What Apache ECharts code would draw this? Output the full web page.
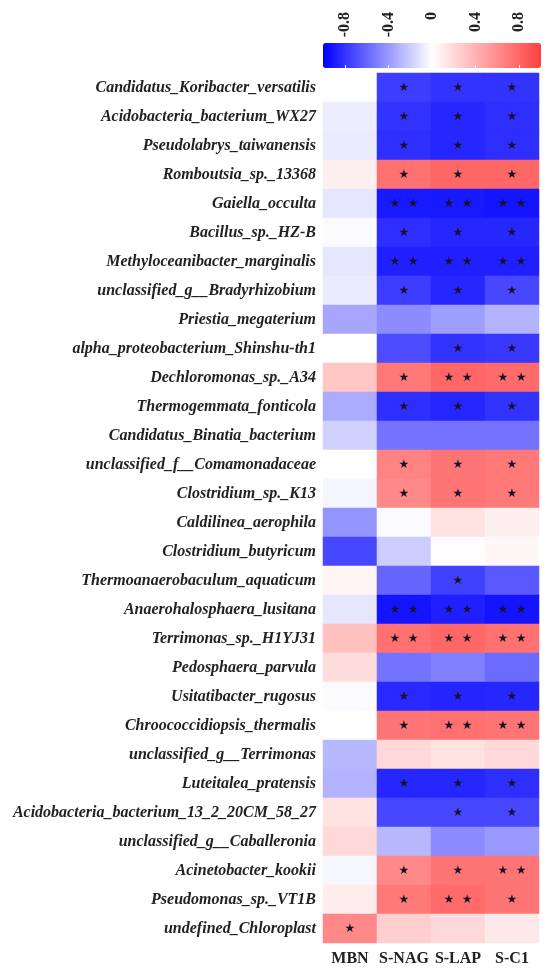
<!DOCTYPE html>
<html>
<head>
<meta charset="utf-8">
<script src="https://cdn.jsdelivr.net/npm/echarts@6/dist/echarts.min.js"></script>
<style>
  html, body { margin: 0; padding: 0; background: #fff; }
  #main { width: 550px; height: 977px; }
</style>
</head>
<body>
<div id="main"></div>
<script>
// 物种（从上到下）
var species = [
  'Candidatus_Koribacter_versatilis',
  'Acidobacteria_bacterium_WX27',
  'Pseudolabrys_taiwanensis',
  'Romboutsia_sp._13368',
  'Gaiella_occulta',
  'Bacillus_sp._HZ-B',
  'Methyloceanibacter_marginalis',
  'unclassified_g__Bradyrhizobium',
  'Priestia_megaterium',
  'alpha_proteobacterium_Shinshu-th1',
  'Dechloromonas_sp._A34',
  'Thermogemmata_fonticola',
  'Candidatus_Binatia_bacterium',
  'unclassified_f__Comamonadaceae',
  'Clostridium_sp._K13',
  'Caldilinea_aerophila',
  'Clostridium_butyricum',
  'Thermoanaerobaculum_aquaticum',
  'Anaerohalosphaera_lusitana',
  'Terrimonas_sp._H1YJ31',
  'Pedosphaera_parvula',
  'Usitatibacter_rugosus',
  'Chroococcidiopsis_thermalis',
  'unclassified_g__Terrimonas',
  'Luteitalea_pratensis',
  'Acidobacteria_bacterium_13_2_20CM_58_27',
  'unclassified_g__Caballeronia',
  'Acinetobacter_kookii',
  'Pseudomonas_sp._VT1B',
  'undefined_Chloroplast'
];

var indicators = ['MBN', 'S-NAG', 'S-LAP', 'S-C1'];

// 相关系数
var mbn  = [0, -0.07, -0.08, 0.08, -0.1, -0.02, -0.1, -0.08, -0.35, 0,
            0.3, -0.33, -0.18, 0, -0.04, -0.42, -0.72, 0.05, -0.1, 0.33,
            0.18, -0.02, 0, -0.28, -0.3, 0.15, 0.2, -0.03, 0.1, 0.62];
var snag = [-0.76, -0.8, -0.82, 0.75, -0.9, -0.82, -0.88, -0.76, -0.45, -0.7,
            0.7, -0.82, -0.55, 0.65, 0.62, -0.02, -0.2, -0.6, -0.92, 0.75,
            -0.55, -0.84, 0.72, 0.2, -0.85, -0.72, -0.28, 0.62, 0.7, 0.25];
var slap = [-0.8, -0.85, -0.85, 0.8, -0.9, -0.85, -0.88, -0.85, -0.38, -0.8,
            0.8, -0.85, -0.55, 0.72, 0.72, 0.15, 0.01, -0.75, -0.88, 0.8,
            -0.5, -0.86, 0.75, 0.15, -0.85, -0.72, -0.45, 0.72, 0.78, 0.2];
var sc1  = [-0.8, -0.82, -0.82, 0.8, -0.92, -0.85, -0.88, -0.72, -0.3, -0.78,
            0.78, -0.8, -0.55, 0.7, 0.7, 0.08, 0.04, -0.65, -0.92, 0.75,
            -0.58, -0.85, 0.72, 0.2, -0.82, -0.72, -0.4, 0.72, 0.72, 0.12];

// 显著性标记
var sigMbn  = ['', '', '', '', '', '', '', '', '', '', '', '', '', '', '',
               '', '', '', '', '', '', '', '', '', '', '', '', '', '', '*'];
var sigSnag = ['*', '*', '*', '*', '**', '*', '**', '*', '', '',
               '*', '*', '', '*', '*', '', '', '', '**', '**',
               '', '*', '*', '', '*', '', '', '*', '*', ''];
var sigSlap = ['*', '*', '*', '*', '**', '*', '**', '*', '', '*',
               '**', '*', '', '*', '*', '', '', '*', '**', '**',
               '', '*', '**', '', '*', '*', '', '*', '**', ''];
var sigSc1  = ['*', '*', '*', '*', '**', '*', '**', '*', '', '*',
               '**', '*', '', '*', '*', '', '', '', '**', '**',
               '', '*', '**', '', '*', '*', '', '**', '*', ''];

var colorbarTicks = [-0.8, -0.4, 0, 0.4, 0.8];

var cols = [mbn, snag, slap, sc1];
var sigs = [sigMbn, sigSnag, sigSlap, sigSc1];
var data = [];
cols.forEach(function (col, x) {
  col.forEach(function (v, y) {
    data.push({ value: [x, y, v], sig: sigs[x][y] });
  });
});

var chart = echarts.init(document.getElementById('main'));
var serif = 'Liberation Serif';

chart.setOption({
  backgroundColor: '#ffffff',
  animation: false,
  grid: [
    { left: 323, right: 11, top: 73, bottom: 34 },
    { left: 323, right: 9, top: 43, height: 25 }
  ],
  xAxis: [
    {
      type: 'category',
      gridIndex: 0,
      position: 'bottom',
      data: indicators,
      axisLine: { show: false },
      axisTick: { show: false },
      splitLine: { show: false },
      axisLabel: {
        interval: 0,
        margin: 8,
        fontFamily: serif,
        fontWeight: 'bold',
        fontSize: 16,
        color: '#222'
      }
    },
    {
      type: 'value',
      gridIndex: 1,
      position: 'top',
      min: -1,
      max: 1,
      z: 10,
      axisLine: { show: false },
      splitLine: { show: false },
      axisTick: {
        inside: true,
        length: 3,
        customValues: colorbarTicks,
        lineStyle: { color: '#ffffff', width: 1 }
      },
      axisLabel: {
        customValues: colorbarTicks,
        rotate: 90,
        align: 'right',
        margin: 31,
        fontFamily: serif,
        fontWeight: 'bold',
        fontSize: 16,
        color: '#222',
        formatter: function (v) { return v === 0 ? '0' : String(v); }
      }
    },
    {
      type: 'value',
      gridIndex: 1,
      position: 'bottom',
      min: -1,
      max: 1,
      z: 10,
      axisLine: { show: false },
      splitLine: { show: false },
      axisLabel: { show: false },
      axisTick: {
        inside: true,
        length: 3,
        customValues: colorbarTicks,
        lineStyle: { color: '#ffffff', width: 1 }
      }
    }
  ],
  yAxis: [
    {
      type: 'category',
      gridIndex: 0,
      inverse: true,
      data: species,
      axisLine: { show: false },
      splitLine: { show: false },
      axisTick: {
        length: 5,
        alignWithLabel: true,
        lineStyle: { color: '#cccccc' }
      },
      axisLabel: {
        interval: 0,
        margin: 7,
        fontFamily: serif,
        fontStyle: 'italic',
        fontWeight: 'bold',
        fontSize: 16,
        color: '#222'
      }
    },
    {
      type: 'value',
      gridIndex: 1,
      show: false
    }
  ],
  visualMap: {
    type: 'continuous',
    min: -1,
    max: 1,
    orient: 'horizontal',
    left: 323,
    top: 43,
    padding: 0,
    itemWidth: 25,
    itemHeight: 218,
    calculable: false,
    seriesIndex: 0,
    inRange: { color: ['#0000ff', '#ffffff', '#ff4040'] }
  },
  series: [{
    type: 'heatmap',
    xAxisIndex: 0,
    yAxisIndex: 0,
    data: data,
    itemStyle: { borderWidth: 0 },
    emphasis: { disabled: true },
    label: {
      show: true,
      color: '#141428',
      fontFamily: 'DejaVu Sans',
      fontSize: 12,
      formatter: function (p) {
        if (p.data.sig === '**') return '★  ★';
        if (p.data.sig === '*') return '★';
        return '';
      }
    }
  }]
});
</script>
</body>
</html>
